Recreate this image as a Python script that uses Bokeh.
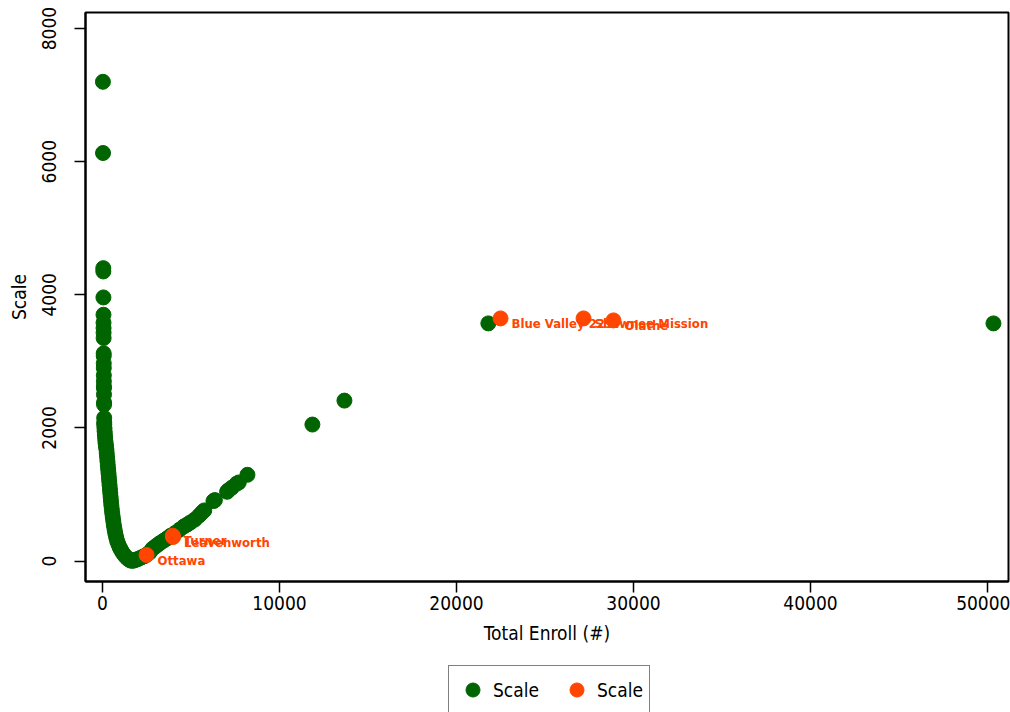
from bokeh.plotting import figure
from bokeh.layouts import column
from bokeh.models import Range1d, Legend, LegendItem, ColumnDataSource, FixedTicker
from bokeh.core.properties import value
from bokeh.embed import file_html
from bokeh.resources import INLINE

FONT = "Liberation Sans Narrow, DejaVu Sans Condensed, Roboto, sans-serif"
GREEN = "#006400"
ORANGE = "#ff4500"

# All districts: total enrollment and scale value
enroll_all = [
    25, 30, 45, 47, 52, 56, 58, 60, 62, 64, 68, 69, 72, 73, 76, 78, 80, 81, 84, 88, 89, 96, 99,
    100, 110, 120, 135, 150, 165, 180, 200, 220, 240, 260, 280, 300, 320, 340, 360, 380, 400,
    420, 440, 460, 480, 500, 525, 550, 580, 610, 640, 680, 720, 770, 830, 900, 980, 1060, 1150,
    1250, 1350, 1450, 1550, 1640, 1750, 1850, 1950, 2050, 2200, 2350, 2500, 2650, 2810, 2950,
    3100, 3250, 3450, 3650, 3850, 4100, 4350, 4600, 4800, 4970, 5200, 5450, 5630, 5750, 6270,
    6350, 7040, 7100, 7300, 7570, 7700, 8190, 11860, 13670, 21800, 50340,
]
scale_all = [
    7200, 6130, 4400, 4350, 3960, 3700, 3580, 3500, 3430, 3350, 3120, 3080, 2970, 2900, 2790,
    2700, 2620, 2600, 2500, 2380, 2350, 2150, 2080,
    2050, 2000, 1950, 1900, 1850, 1800, 1760, 1720, 1680, 1620, 1560, 1500, 1440, 1380, 1320,
    1260, 1200, 1140, 1080, 1020, 960, 900, 840, 780, 720, 660, 600, 540, 480, 420, 360, 300,
    250, 200, 160, 120, 85, 55, 30, 12, 3, 5, 15, 25, 35, 55, 70, 95, 125, 180, 210,
    240, 270, 305, 340, 380, 420, 470, 520, 550, 580, 620, 680, 730, 760, 900,
    915, 1040, 1060, 1100, 1160, 1180, 1295, 2050, 2410, 3570, 3570,
]

# Highlighted districts
names_hl = ["Ottawa", "Turner", "Leavenworth", "Blue Valley 229", "Shawnee Mission", "Olathe"]
enroll_hl = [2490, 3970, 3990, 22490, 27180, 28870]
scale_hl = [90, 380, 360, 3645, 3645, 3615]

p = figure(
    width=1010, height=650,
    x_range=Range1d(-960, 51190), y_range=Range1d(-308, 8241),
    output_backend="svg", toolbar_location=None,
    min_border_left=85, min_border_right=2, min_border_top=12, min_border_bottom=69,
)
p.background_fill_color = "white"
p.border_fill_color = "white"
p.outline_line_color = "black"
p.outline_line_width = 2
p.xgrid.visible = False
p.ygrid.visible = False

r_all = p.scatter(enroll_all, scale_all, size=15, color=GREEN, line_color=GREEN)
src_hl = ColumnDataSource(dict(x=enroll_hl, y=scale_hl, name=names_hl))
r_hl = p.scatter("x", "y", source=src_hl, size=15, color=ORANGE, line_color=ORANGE)
p.text("x", "y", text="name", source=src_hl, x_offset=11, y_offset=5,
       text_baseline="middle", text_align="left", text_color=ORANGE,
       text_font=value(FONT), text_font_size="13px", text_font_style="bold")

for ax in (p.xaxis[0], p.yaxis[0]):
    ax.axis_line_width = 2
    ax.axis_line_color = "black"
    ax.major_tick_line_color = "black"
    ax.major_tick_line_width = 1.5
    ax.major_tick_in = 0
    ax.major_tick_out = 11
    ax.minor_tick_line_color = None
    ax.major_label_text_font = FONT
    ax.major_label_text_font_size = "19px"
    ax.major_label_text_color = "black"
    ax.axis_label_text_font = FONT
    ax.axis_label_text_font_size = "19px"
    ax.axis_label_text_font_style = "normal"
    ax.axis_label_text_color = "black"

p.xaxis.ticker = FixedTicker(ticks=[0, 10000, 20000, 30000, 40000, 50000])
p.yaxis.ticker = FixedTicker(ticks=[0, 2000, 4000, 6000, 8000])
p.xaxis.axis_label = "Total Enroll (#)"
p.yaxis.axis_label = "Scale"
p.xaxis.major_label_standoff = 3
p.xaxis.axis_label_standoff = 9
p.yaxis.major_label_standoff = 18
p.yaxis.axis_label_standoff = 10
p.yaxis.major_label_orientation = "vertical"

# Legend strip underneath the plot (its frame lines up with the plot frame)
leg = figure(
    width=1010, height=62, x_range=Range1d(0, 1), y_range=Range1d(0, 1),
    x_axis_type=None, y_axis_type=None, output_backend="svg", toolbar_location=None,
    min_border=0,
)
leg.outline_line_color = None
leg.background_fill_color = "white"
leg.border_fill_color = "white"
k_all = leg.scatter([-1], [-1], size=15, color=GREEN, line_color=GREEN)
k_hl = leg.scatter([-1], [-1], size=15, color=ORANGE, line_color=ORANGE)

legend = Legend(
    items=[LegendItem(label="Scale", renderers=[k_all]),
           LegendItem(label="Scale", renderers=[k_hl])],
    orientation="horizontal", location=(363, -2),
    glyph_width=35, glyph_height=35, padding=6, spacing=20, label_standoff=3,
    label_text_font=FONT, label_text_font_size="19px", label_text_color="black",
    border_line_color="black", border_line_width=1.5, background_fill_alpha=1,
    margin=0,
)
leg.add_layout(legend, "center")

open("out.html", "w").write(file_html(column(p, leg, spacing=0), INLINE))
